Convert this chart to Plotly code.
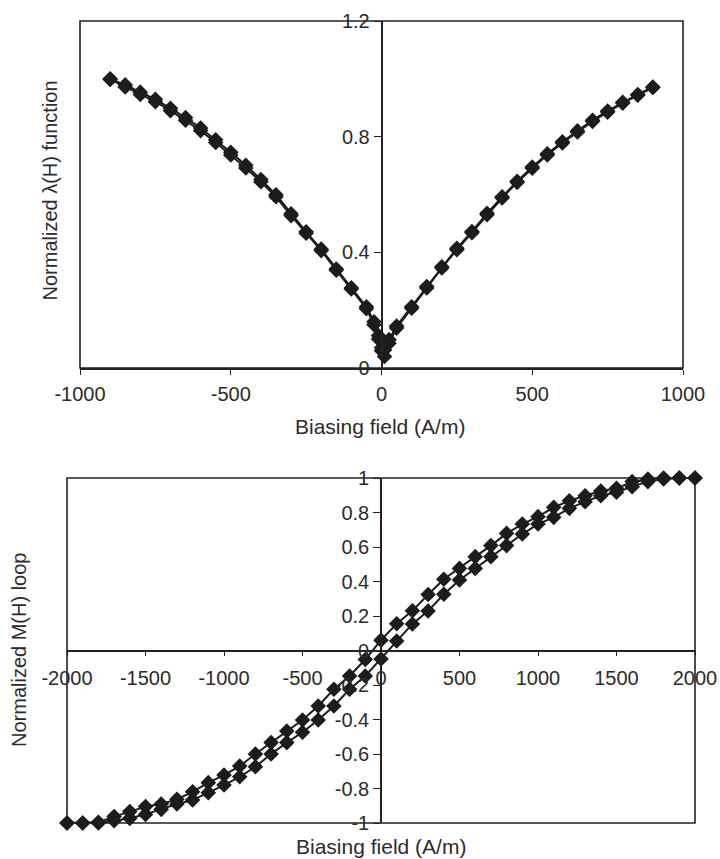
import plotly.graph_objects as go

# --- Magnetostriction lambda(H) vs biasing field (two sweep directions) ---
H_LAMBDA = [-900, -850, -800, -750, -700, -650, -600, -550, -500, -450, -400, -350,
            -300, -250, -200, -150, -100, -50, -25, -10, 0, 10, 25,
            50, 100, 150, 200, 250, 300, 350, 400, 450, 500, 550, 600, 650, 700,
            750, 800, 850, 900]
LAMBDA_UP = [1.000, 0.979, 0.954, 0.929, 0.898, 0.866, 0.830, 0.789, 0.746, 0.701,
             0.652, 0.599, 0.533, 0.471, 0.411, 0.342, 0.277, 0.212,
             0.160, 0.112, 0.070, 0.040, 0.086,
             0.138, 0.207, 0.277, 0.346, 0.409, 0.468, 0.530, 0.588, 0.642, 0.691,
             0.737, 0.778, 0.816, 0.853, 0.885, 0.916, 0.943, 0.970]
LAMBDA_DOWN = [0.998, 0.972, 0.946, 0.921, 0.890, 0.857, 0.821, 0.780, 0.737, 0.692,
               0.644, 0.592, 0.527, 0.466, 0.406, 0.338, 0.273, 0.205,
               0.150, 0.100, 0.060, 0.062, 0.098,
               0.145, 0.212, 0.282, 0.350, 0.414, 0.472, 0.535, 0.592, 0.646, 0.695,
               0.741, 0.782, 0.820, 0.857, 0.889, 0.919, 0.946, 0.972]

# --- Normalized M(H) hysteresis loop ---
H_LOOP = [-2000, -1900, -1800, -1700, -1600, -1500, -1400, -1300, -1200, -1100,
          -1000, -900, -800, -700, -600, -500, -400, -300, -200, -100, 0,
          100, 200, 300, 400, 500, 600, 700, 800, 900, 1000,
          1100, 1200, 1300, 1400, 1500, 1600, 1700, 1800, 1900, 2000]
M_UPPER = [-1.0, -1.0, -0.996, -0.963, -0.934, -0.905, -0.890, -0.863, -0.819, -0.766,
           -0.722, -0.670, -0.600, -0.534, -0.467, -0.403, -0.322, -0.225, -0.148, -0.052, 0.060,
           0.155, 0.230, 0.325, 0.413, 0.476, 0.544, 0.608, 0.679, 0.733, 0.776,
           0.830, 0.868, 0.897, 0.925, 0.940, 0.979, 0.994, 1.0, 1.0, 1.0]
M_LOWER = [-1.0, -1.0, -1.0, -0.987, -0.973, -0.950, -0.921, -0.890, -0.867, -0.824,
           -0.780, -0.732, -0.674, -0.600, -0.534, -0.474, -0.403, -0.322, -0.225, -0.148, -0.049,
           0.055, 0.154, 0.229, 0.326, 0.409, 0.476, 0.544, 0.608, 0.675, 0.733,
           0.772, 0.824, 0.863, 0.897, 0.917, 0.950, 0.979, 0.994, 1.0, 1.0]

TOP_X_TICKS = [-1000, -500, 0, 500, 1000]
TOP_X_TEXT = ["-1000", "-500", "0", "500", "1000"]
TOP_Y_TICKS = [0, 0.4, 0.8, 1.2]
TOP_Y_TEXT = ["0", "0.4", "0.8", "1.2"]
BOT_X_TICKS = [-2000, -1500, -1000, -500, 0, 500, 1000, 1500, 2000]
BOT_X_TEXT = ["-2000", "-1500", "-1000", "-500", "0", "500", "1000", "1500", "2000"]
BOT_Y_TICKS = [1, 0.8, 0.6, 0.4, 0.2, 0, -0.2, -0.4, -0.6, -0.8, -1]
BOT_Y_TEXT = ["1", "0.8", "0.6", "0.4", "0.2", "0", "-0.2", "-0.4", "-0.6", "-0.8", "-1"]

W, H = 720, 859
FONT = "Liberation Sans, Arial, sans-serif"
INK = "#1c1c1c"
TEXT = "#2b2b2b"

# plot-area boxes in pixels (left, right, top, bottom)
TOP_BOX = (80, 683, 21, 368)
BOT_BOX = (67, 695, 478, 823)


def xdom(box):
    return [box[0] / W, box[1] / W]


def ydom(box):
    return [1 - box[3] / H, 1 - box[2] / H]


def frac(v, lo, hi):
    return (v - lo) / (hi - lo)


top_xr = [-1000, 1000]
top_yr = [0, 1.2]
bot_xr = [-2000, 2000]
bot_yr = [-1, 1]

top_xd, top_yd = xdom(TOP_BOX), ydom(TOP_BOX)
bot_xd, bot_yd = xdom(BOT_BOX), ydom(BOT_BOX)

# paper positions where the crossing axes sit (at H = 0 and M = 0)
top_y_pos = top_xd[0] + frac(0, *top_xr) * (top_xd[1] - top_xd[0])
bot_y_pos = bot_xd[0] + frac(0, *bot_xr) * (bot_xd[1] - bot_xd[0])
bot_x_pos = bot_yd[0] + frac(0, *bot_yr) * (bot_yd[1] - bot_yd[0])

marker = dict(symbol="diamond", size=12, color=INK, line=dict(width=0))
line = dict(color=INK, width=2)

fig = go.Figure()
for ys in (LAMBDA_UP, LAMBDA_DOWN):
    fig.add_trace(go.Scatter(x=H_LAMBDA, y=ys, mode="lines+markers", marker=marker,
                             line=line, xaxis="x", yaxis="y", cliponaxis=False,
                             showlegend=False))
for ys in (M_UPPER, M_LOWER):
    fig.add_trace(go.Scatter(x=H_LOOP, y=ys, mode="lines+markers", marker=marker,
                             line=line, xaxis="x2", yaxis="y2", cliponaxis=False,
                             showlegend=False))

tickfont = dict(family=FONT, size=20, color=TEXT)
axis_common = dict(showgrid=False, zeroline=False, showline=True, linecolor="#222",
                   linewidth=1.6, ticks="outside", tickcolor="#222", tickwidth=1.4,
                   tickfont=tickfont, fixedrange=True, automargin=False)

fig.update_layout(
    template="none",
    width=W, height=H,
    margin=dict(l=0, r=0, t=0, b=0, pad=0),
    paper_bgcolor="white", plot_bgcolor="white",
    xaxis=dict(domain=top_xd, range=top_xr, anchor="y", tickvals=TOP_X_TICKS,
               ticktext=TOP_X_TEXT, ticklen=5, ticklabelstandoff=2, **axis_common),
    yaxis=dict(domain=top_yd, range=top_yr, anchor="free", position=top_y_pos,
               tickvals=TOP_Y_TICKS, ticktext=TOP_Y_TEXT, ticklen=7, **axis_common),
    xaxis2=dict(domain=bot_xd, range=bot_xr, anchor="free", position=bot_x_pos,
                tickvals=BOT_X_TICKS, ticktext=BOT_X_TEXT, ticklen=5,
                ticklabelstandoff=5, **axis_common),
    yaxis2=dict(domain=bot_yd, range=bot_yr, anchor="free", position=bot_y_pos,
                tickvals=BOT_Y_TICKS, ticktext=BOT_Y_TEXT, ticklen=7, **axis_common),
)

# frames around both plot areas
for xr, yr in (("x domain", "y domain"), ("x2 domain", "y2 domain")):
    fig.add_shape(type="rect", xref=xr, yref=yr, x0=0, x1=1, y0=0, y1=1,
                  line=dict(color="#222", width=1.6), layer="below")

title_font = dict(family=FONT, size=21, color=TEXT)
ytitle_font = dict(family=FONT, size=20, color=TEXT)
fig.add_annotation(text="Biasing field (A/m)", xref="paper", yref="paper",
                   x=380 / W, y=1 - 426 / H, showarrow=False, font=title_font,
                   xanchor="center", yanchor="middle")
fig.add_annotation(text="Biasing field (A/m)", xref="paper", yref="paper",
                   x=381 / W, y=1 - 846 / H, showarrow=False, font=title_font,
                   xanchor="center", yanchor="middle")
fig.add_annotation(text="Normalized λ(H) function", xref="paper", yref="paper",
                   x=49.5 / W, y=1 - 191 / H, showarrow=False, font=ytitle_font,
                   textangle=-90, xanchor="center", yanchor="middle")
fig.add_annotation(text="Normalized M(H) loop", xref="paper", yref="paper",
                   x=19 / W, y=1 - 650 / H, showarrow=False, font=ytitle_font,
                   textangle=-90, xanchor="center", yanchor="middle")

fig.write_html("out.html")
